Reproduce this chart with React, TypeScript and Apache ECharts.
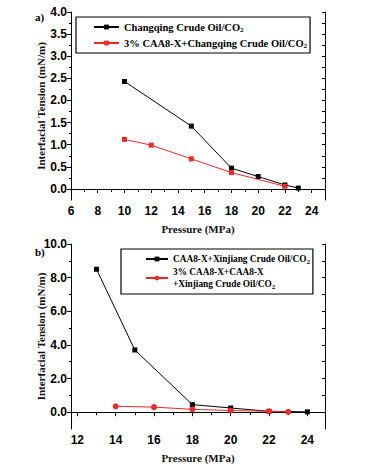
import React, { useEffect, useRef } from "react";
import * as echarts from "echarts";

// ---- Data (a) ----
const aBlackName = "Changqing Crude Oil/CO2";
const aRedName = "3% CAA8-X+Changqing Crude Oil/CO2";
const aBlackX = [10, 15, 18, 20, 22, 23];
const aBlackY = [2.43, 1.42, 0.47, 0.28, 0.09, 0.02];
const aRedX = [10, 12, 15, 18, 22];
const aRedY = [1.12, 0.99, 0.68, 0.37, 0.06];
const aXTicks = [6, 8, 10, 12, 14, 16, 18, 20, 22, 24];
const aXMinor = [7, 9, 11, 13, 15, 17, 19, 21, 23];
const aYTicks = [0, 0.5, 1, 1.5, 2, 2.5, 3, 3.5, 4];
const aYMinor = [0.25, 0.75, 1.25, 1.75, 2.25, 2.75, 3.25, 3.75];

// ---- Data (b) ----
const bBlackName = "CAA8-X+Xinjiang Crude Oil/CO2";
const bRedName = "3% CAA8-X+CAA8-X\n+Xinjiang Crude Oil/CO2";
const bBlackX = [13, 15, 18, 20, 22, 24];
const bBlackY = [8.5, 3.7, 0.45, 0.25, 0.05, 0.02];
const bRedX = [14, 16, 18, 20, 22, 23];
const bRedY = [0.35, 0.3, 0.17, 0.1, 0.05, 0.02];
const bXTicks = [12, 14, 16, 18, 20, 22, 24];
const bXMinor = [13, 15, 17, 19, 21, 23];
const bYTicks = [0, 2, 4, 6, 8, 10];
const bYMinor = [1, 3, 5, 7, 9];

const zip = (xs: number[], ys: number[]) => xs.map((x, i) => [x, ys[i]]);

const RED = "#f0282a";
const SANS = "Liberation Sans";
const SERIF = "Liberation Serif";

export default function App() {
  const ref = useRef<HTMLDivElement>(null);
  useEffect(() => {
    if (!ref.current) return;
    const chart = echarts.init(ref.current, undefined, { renderer: "svg" });

    const grids = [
      { left: 71, top: 12, width: 254, height: 188 },
      { left: 71, top: 244, width: 254, height: 185 },
    ];
    const cfg = [
      { xmin: 6, xmax: 25, ymin: -0.25, ymax: 4, xt: aXTicks, xm: aXMinor, yt: aYTicks, ym: aYMinor },
      { xmin: 11.67, xmax: 24.92, ymin: -1, ymax: 10, xt: bXTicks, xm: bXMinor, yt: bYTicks, ym: bYMinor },
    ];

    const xAxes: any[] = [];
    const yAxes: any[] = [];
    cfg.forEach((c, g) => {
      const base = { type: "value", gridIndex: g, min: c.xmin, max: c.xmax, splitLine: { show: false } };
      xAxes.push({
        ...base,
        position: "bottom",
        name: "Pressure (MPa)",
        nameLocation: "middle",
        nameGap: 23,
        nameMoveOverlap: false,
        nameTextStyle: { fontFamily: SERIF, fontWeight: "bold", fontSize: 11, color: "#111" },
        axisLine: { show: true, lineStyle: { color: "#000", width: 1 } },
        axisTick: { show: true, inside: false, length: 4, customValues: c.xt, lineStyle: { color: "#000" } },
        axisLabel: { show: true, customValues: c.xt, fontFamily: SANS, fontWeight: "bold", fontSize: 12, color: "#000", margin: 5, formatter: (v: number) => String(v) },
      });
      xAxes.push({
        ...base,
        position: "bottom",
        axisLine: { show: false },
        axisTick: { show: true, inside: false, length: 2, customValues: c.xm, lineStyle: { color: "#000" } },
        axisLabel: { show: false },
      });
      xAxes.push({
        ...base,
        position: "top",
        axisLine: { show: true, lineStyle: { color: "#000", width: 1 } },
        axisTick: { show: true, inside: true, length: 3, customValues: c.xt.concat(c.xm), lineStyle: { color: "#000" } },
        axisLabel: { show: false },
      });
      const ybase = { type: "value", gridIndex: g, min: c.ymin, max: c.ymax, splitLine: { show: false } };
      yAxes.push({
        ...ybase,
        position: "left",
        name: "Interfacial Tension (mN/m)",
        nameLocation: "middle",
        nameGap: 25,
        nameMoveOverlap: false,
        nameTextStyle: { fontFamily: SERIF, fontWeight: "bold", fontSize: 11, color: "#111" },
        axisLine: { show: true, lineStyle: { color: "#000", width: 1 } },
        axisTick: { show: true, inside: false, length: 4, customValues: c.yt, lineStyle: { color: "#000" } },
        axisLabel: { show: true, customValues: c.yt, fontFamily: SANS, fontWeight: "bold", fontSize: 12, color: "#000", margin: 4, formatter: (v: number) => v.toFixed(1) },
      });
      yAxes.push({
        ...ybase,
        position: "left",
        axisLine: { show: false },
        axisTick: { show: true, inside: false, length: 2, customValues: c.ym, lineStyle: { color: "#000" } },
        axisLabel: { show: false },
      });
      yAxes.push({
        ...ybase,
        position: "right",
        axisLine: { show: true, lineStyle: { color: "#000", width: 1 } },
        axisTick: { show: true, inside: true, length: 3, customValues: c.yt.concat(c.ym), lineStyle: { color: "#000" } },
        axisLabel: { show: false },
      });
    });

    const sub = (name: string) => name.replace(/CO2$/, "CO{sub|2}");
    const mkLegendText = (fs: number) => ({
      fontFamily: SERIF,
      fontWeight: "bold",
      fontSize: fs,
      color: "#000",
      lineHeight: 12,
      rich: {
        sub: { fontFamily: SERIF, fontWeight: "bold", fontSize: 7, color: "#000", verticalAlign: "bottom", padding: [5, 0, 0, 0] },
      },
    });

    const lineSeries = (name: string, data: number[][], g: number, color: string, symbol: string) => ({
      type: "line",
      name,
      data,
      xAxisIndex: g * 3,
      yAxisIndex: g * 3,
      symbol,
      symbolSize: symbol === "circle" ? 6 : 5,
      showSymbol: true,
      lineStyle: { color, width: 1 },
      itemStyle: { color },
      z: color === RED ? 3 : 2,
    });

    chart.setOption({
      animation: false,
      backgroundColor: "#fff",
      grid: grids,
      xAxis: xAxes,
      yAxis: yAxes,
      legend: [
        {
          data: [aBlackName, aRedName],
          orient: "vertical",
          left: 76,
          top: 17,
          padding: [4, 3, 4, 17],
          itemGap: 4,
          itemWidth: 25,
          itemHeight: 6,
          itemTextGap: 2,
          borderColor: "#000",
          borderWidth: 1.2,
          formatter: sub,
          textStyle: mkLegendText(10.5),
        },
        {
          data: [bBlackName, bRedName],
          orient: "vertical",
          left: 121,
          top: 249,
          padding: [4, 3, 4, 24],
          itemGap: 1,
          itemWidth: 22,
          itemHeight: 6,
          itemTextGap: 2,
          borderColor: "#000",
          borderWidth: 1.2,
          formatter: sub,
          textStyle: mkLegendText(9.3),
        },
      ],
      graphic: [
        { type: "text", left: 35, top: 11, style: { text: "a)", fontFamily: SERIF, fontWeight: "bold", fontSize: 11, fill: "#000" } },
        { type: "text", left: 35, top: 246, style: { text: "b)", fontFamily: SERIF, fontWeight: "bold", fontSize: 11, fill: "#000" } },
      ],
      series: [
        lineSeries(aBlackName, zip(aBlackX, aBlackY), 0, "#000", "rect"),
        lineSeries(aRedName, zip(aRedX, aRedY), 0, RED, "rect"),
        lineSeries(bBlackName, zip(bBlackX, bBlackY), 1, "#000", "rect"),
        lineSeries(bRedName, zip(bRedX, bRedY), 1, RED, "circle"),
      ],
    });
    return () => chart.dispose();
  }, []);
  return <div ref={ref} style={{ position: "fixed", left: 0, top: 0, width: 373, height: 464, background: "#fff" }} />;
}
